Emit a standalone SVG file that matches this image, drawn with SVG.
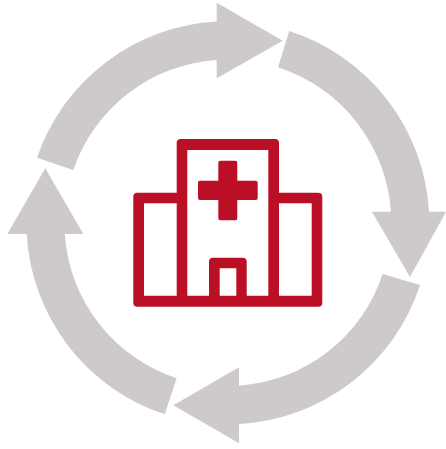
<svg xmlns="http://www.w3.org/2000/svg" width="446" height="449" viewBox="0 0 446 449">
<style>
.arrow{fill:#cdcac9;stroke:none}
.red{fill:#ba0f25;stroke:none;fill-rule:evenodd}
</style>
<rect width="446" height="449" fill="#ffffff"/>
<g id="connectors">
<path id="arrow-right" class="arrow" d="M289.3 31A201.5 201.5 0 0 1 429 211.7L446 211.7L410 277L372 211.7L390.9 211.7A163.3 163.3 0 0 0 278 67.3Z"/>
<path id="arrow-bottom" class="arrow" d="M420 285A201.5 201.5 0 0 1 239 424L239 443.3L173.3 405.2L239 367.3L239 385.7A163.3 163.3 0 0 0 382.7 274Z"/>
<path id="arrow-left" class="arrow" d="M164.7 414.3A201.5 201.5 0 0 1 26.7 234L7.3 234L45.3 168.3L83.3 234L64.8 234A163.3 163.3 0 0 0 176.7 378.3Z"/>
<path id="arrow-top" class="arrow" d="M37 157.7A201.5 201.5 0 0 1 216.7 21.6L216.7 2.7L282.7 40.7L216.7 78.3L216.7 59.9A163.3 163.3 0 0 0 73.3 170Z"/>
</g>
<g id="hospital">
<path class="red" d="M180.7 139H275A4 4 0 0 1 279 143V192.7H318.3A4 4 0 0 1 322.3 196.7V302.7A4 4 0 0 1 318.3 306.7H137.3A4 4 0 0 1 133.3 302.7V196.7A4 4 0 0 1 137.3 192.7H176.7V143A4 4 0 0 1 180.7 139Z
M187.3 150V295.7H209V261.7A4 4 0 0 1 213 257.7H242.7A4 4 0 0 1 246.7 261.7V295.7H268.3V150Z
M144 203.3V295.7H176.7V203.3Z
M279 203.3V295.7H311.7V203.3Z
M219.7 268.3V295.7H236.3V268.3Z"/>
<path class="red" d="M220.3 160.7H235.3A2 2 0 0 1 237.3 162.7V180.7H255.7A2 2 0 0 1 257.7 182.7V198A2 2 0 0 1 255.7 200H237.3V218.3A2 2 0 0 1 235.3 220.3H220.3A2 2 0 0 1 218.3 218.3V200H200A2 2 0 0 1 198 198V182.7A2 2 0 0 1 200 180.7H218.3V162.7A2 2 0 0 1 220.3 160.7Z"/>
</g>
</svg>
